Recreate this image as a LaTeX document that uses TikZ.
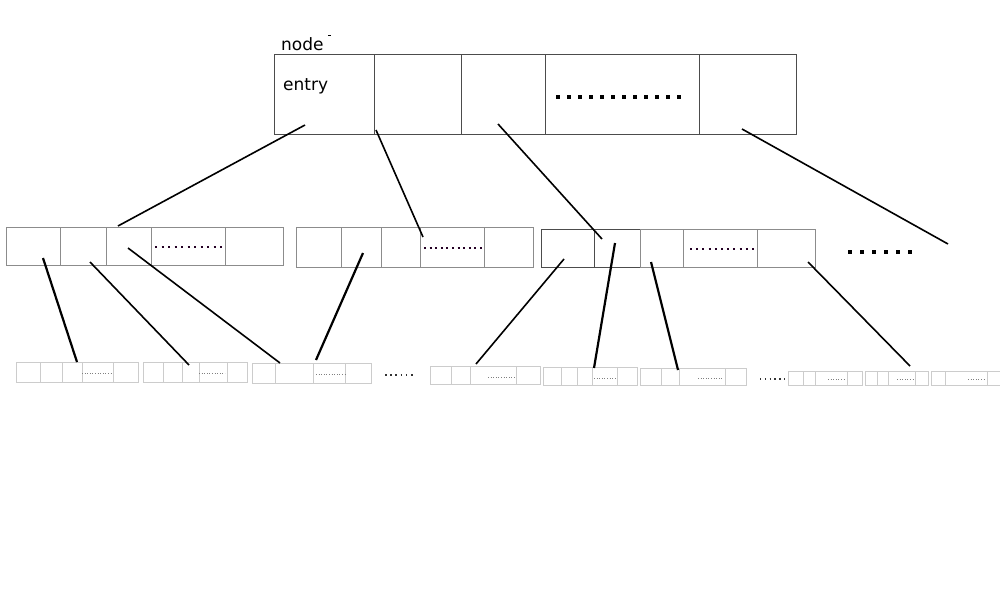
\documentclass[tikz,border=0pt]{standalone}
\usepackage{fontspec}
\setmainfont{DejaVu Sans}
\begin{document}
\begin{tikzpicture}[x=1pt,y=-1pt,
  cellbase/.style={draw, rectangle, inner sep=0pt, outer sep=0pt, anchor=north west},
  cellT/.style={cellbase, draw=black!70, line width=1pt},
  cellM/.style={cellbase, draw=black!45, line width=1pt},
  cellS/.style={cellbase, draw=black!20, line width=0.8pt},
  link/.style={line width=1.6pt, black},
  linkB/.style={line width=2.2pt, black},
  bigdots/.style={line width=3.6pt, black},
  middots/.style={line width=2pt, black!60!violet!70!black},
  smalldots/.style={line width=1pt, dash pattern=on 1pt off 1.6pt, black!50},
  lbl/.style={anchor=base west, inner sep=0pt, font=\fontsize{17}{19}\selectfont}
]
\useasboundingbox (0,0) rectangle (1000,600);
\fill[white] (0,0) rectangle (1000,600);

% top node
\node[lbl] (nodelbl) at (281,50) {node};
\draw[line width=1pt] (328,35) -- (331,35);
\foreach \a/\b [count=\i] in {274/374,374/461,461/545,545/699,699/796}
  \node[cellT, minimum width={(\b-\a)*1pt}, minimum height=80pt] (T\i) at (\a,54) {};
\node[lbl] (entry) at (283,90) {entry};
\draw[bigdots, dash pattern=on 3.6pt off 7.44pt] (556,97) -- (681.1,97);

% level 2
\foreach \a/\b [count=\i] in {6/60,60/106,106/151,151/225,225/283}
  \node[cellM, minimum width={(\b-\a)*1pt}, minimum height=38pt] (A\i) at (\a,227) {};
\draw[middots, dash pattern=on 2pt off 4.5pt] (155,247) -- (222.1,247);
\foreach \a/\b [count=\i] in {296/341,341/381,381/420,420/484,484/533}
  \node[cellM, minimum width={(\b-\a)*1pt}, minimum height=40pt] (B\i) at (\a,227) {};
\draw[middots, dash pattern=on 2pt off 3.6pt] (424,248) -- (482.1,248);
\foreach \a/\b [count=\i] in {541/594,594/640,640/683,683/757,757/815}
  \node[cellM, minimum width={(\b-\a)*1pt}, minimum height=38pt] (C\i) at (\a,229) {};
\draw[black!70, line width=1pt] (541,229) -- (640,229) (541,267) -- (640,267) (594,229) -- (594,267) (541,229) -- (541,267);
\draw[middots, dash pattern=on 2pt off 4.2pt] (690,249) -- (754.1,249);
\draw[bigdots, dash pattern=on 3.6pt off 8.48pt] (848,252) -- (912.1,252);

% level 3
\foreach \a/\b [count=\i] in {16/40,40/62,62/82,82/113,113/138}
  \node[cellS, minimum width={(\b-\a)*1pt}, minimum height=20pt] (D\i) at (\a,362) {};
\draw[smalldots] (82,373) -- (112,373);
\foreach \a/\b [count=\i] in {143/163,163/182,182/199,199/227,227/247}
  \node[cellS, minimum width={(\b-\a)*1pt}, minimum height=20pt] (E\i) at (\a,362) {};
\draw[smalldots] (199,373) -- (225,373);
\foreach \a/\b [count=\i] in {252/275,275/313,313/345,345/371}
  \node[cellS, minimum width={(\b-\a)*1pt}, minimum height=20pt] (F\i) at (\a,363) {};
\draw[smalldots] (316,374) -- (345,374);
\draw[line width=1.6pt, dash pattern=on 1.6pt off 3.6pt, black!80] (385,375) -- (413.2,375);
\foreach \a/\b [count=\i] in {430/451,451/470,470/516,516/540}
  \node[cellS, minimum width={(\b-\a)*1pt}, minimum height=18pt] (G\i) at (\a,366) {};
\draw[smalldots] (488,377) -- (515,377);
\foreach \a/\b [count=\i] in {543/561,561/577,577/592,592/617,617/637}
  \node[cellS, minimum width={(\b-\a)*1pt}, minimum height=18pt] (H\i) at (\a,367) {};
\draw[smalldots] (594,378) -- (615,378);
\foreach \a/\b [count=\i] in {640/661,661/679,679/725,725/746}
  \node[cellS, minimum width={(\b-\a)*1pt}, minimum height=17pt] (I\i) at (\a,368) {};
\draw[smalldots] (698,378) -- (723,378);
\draw[line width=1.4pt, dash pattern=on 1.4pt off 3.4pt, black!80] (760,379) -- (785.4,379);
\foreach \a/\b [count=\i] in {788/803,803/815,815/847,847/862}
  \node[cellS, minimum width={(\b-\a)*1pt}, minimum height=14pt] (J\i) at (\a,371) {};
\draw[smalldots] (828,379) -- (846,379);
\foreach \a/\b [count=\i] in {865/877,877/888,888/915,915/928}
  \node[cellS, minimum width={(\b-\a)*1pt}, minimum height=14pt] (K\i) at (\a,371) {};
\draw[smalldots] (897,379) -- (914,379);
\foreach \a/\b [count=\i] in {931/945,945/987,987/1000}
  \node[cellS, minimum width={(\b-\a)*1pt}, minimum height=14pt] (L\i) at (\a,371) {};
\draw[smalldots] (968,379) -- (986,379);

% connector end points
\coordinate (t1) at (305,125);
\coordinate (t2) at (376,130);
\coordinate (t3) at (498,124);
\coordinate (t4) at (742,129);
\coordinate (a3) at (118,226);
\coordinate (b4) at (423,237);
\coordinate (c2) at (602,239);
\coordinate (more) at (948,244);
\draw[link] (t1) -- (a3);
\draw[link] (t2) -- (b4);
\draw[link] (t3) -- (c2);
\draw[link] (t4) -- (more);

\coordinate (a1) at (43,258);
\coordinate (a2) at (90,262);
\coordinate (a3b) at (128,248);
\coordinate (b2) at (363,253);
\coordinate (c1) at (564,259);
\coordinate (c2b) at (615,243);
\coordinate (c3) at (651,262);
\coordinate (c5) at (808,262);
\coordinate (d3) at (77,362);
\coordinate (e3) at (189,365);
\coordinate (f1) at (280,363);
\coordinate (f2) at (316,360);
\coordinate (g3) at (476,364);
\coordinate (h3) at (594,368);
\coordinate (i2) at (678,370);
\coordinate (k1) at (910,366);
\draw[linkB] (a1) -- (d3);
\draw[link] (a2) -- (e3);
\draw[link] (a3b) -- (f1);
\draw[linkB] (b2) -- (f2);
\draw[link] (c1) -- (g3);
\draw[linkB] (c2b) -- (h3);
\draw[linkB] (c3) -- (i2);
\draw[link] (c5) -- (k1);
\end{tikzpicture}
\end{document}
